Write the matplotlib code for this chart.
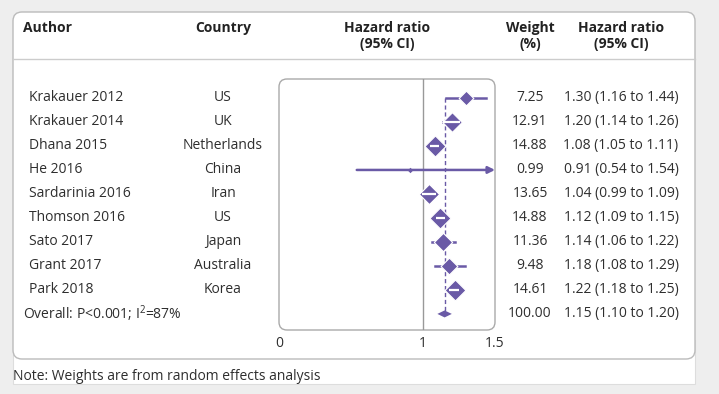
import numpy as np
import matplotlib
matplotlib.use("Agg")
import matplotlib.pyplot as plt
from matplotlib.patches import FancyBboxPatch, Rectangle, Polygon
from matplotlib.path import Path
from matplotlib.transforms import blended_transform_factory

# Study data
authors = ["Krakauer 2012", "Krakauer 2014", "Dhana 2015", "He 2016",
           "Sardarinia 2016", "Thomson 2016", "Sato 2017", "Grant 2017",
           "Park 2018"]
countries = ["US", "UK", "Netherlands", "China", "Iran", "US", "Japan",
             "Australia", "Korea"]
hr = [1.30, 1.20, 1.08, 0.91, 1.04, 1.12, 1.14, 1.18, 1.22]
hr_low = [1.16, 1.14, 1.05, 0.54, 0.99, 1.09, 1.06, 1.08, 1.18]
hr_high = [1.44, 1.26, 1.11, 1.54, 1.09, 1.15, 1.22, 1.29, 1.25]
weights = [7.25, 12.91, 14.88, 0.99, 13.65, 14.88, 11.36, 9.48, 14.61]

overall_hr = 1.15
overall_low = 1.10
overall_high = 1.20
overall_weight = 100.00
overall_label = "Overall: P<0.001; I$^2$=87%"

x_ticks = [0, 1, 1.5]
x_tick_labels = ["0", "1", "1.5"]

PURPLE = "#6a5aa6"
TEXT = "#2e2e2e"
FS = 10
W, H = 719, 394

plt.rcParams["font.family"] = ["Open Sans", "DejaVu Sans"]
plt.rcParams["mathtext.fontset"] = "custom"
plt.rcParams["mathtext.rm"] = "Open Sans"

fig = plt.figure(figsize=(W / 100, H / 100), dpi=100, facecolor="#eeeeee")

# background canvas in pixel units
bg = fig.add_axes([0, 0, 1, 1])
bg.set_xlim(0, W)
bg.set_ylim(H, 0)
bg.axis("off")

bg.add_patch(Rectangle((13, 340), 682, 44, facecolor="white",
                       edgecolor="#dddddd", lw=0.8, zorder=0))
bg.add_patch(FancyBboxPatch((13, 12), 682, 347,
                            boxstyle="round,pad=0,rounding_size=9",
                            facecolor="white", edgecolor="#bbbbbb", lw=1,
                            zorder=1))
bg.plot([13, 695], [59, 59], color="#cccccc", lw=1, zorder=2)
bg.add_patch(FancyBboxPatch((279, 79), 216, 251,
                            boxstyle="round,pad=0,rounding_size=8",
                            facecolor="white", edgecolor="#aaaaaa", lw=1,
                            zorder=2))

# headers
hdr = dict(fontsize=FS, fontweight="bold", color="#222222", va="center")
bg.text(23, 28, "Author", ha="left", **hdr)
bg.text(223, 28, "Country", ha="center", **hdr)
bg.text(387, 28, "Hazard ratio", ha="center", **hdr)
bg.text(387, 44, "(95% CI)", ha="center", **hdr)
bg.text(530, 28, "Weight", ha="center", **hdr)
bg.text(530, 44, "(%)", ha="center", **hdr)
bg.text(621, 28, "Hazard ratio", ha="center", **hdr)
bg.text(621, 44, "(95% CI)", ha="center", **hdr)

bg.text(13, 376, "Note: Weights are from random effects analysis",
        fontsize=FS, color=TEXT, ha="left", va="center")

# forest plot axes
ax = fig.add_axes([279 / W, 1 - 330 / H, 216 / W, 251 / H])
ax.patch.set_alpha(0)
for s in ax.spines.values():
    s.set_visible(False)
n = len(authors)
ax.set_xlim(0, 1.5)
ax.set_ylim(n + 0.67, -0.79)
ax.set_yticks([])
ax.set_xticks(x_ticks)
ax.set_xticklabels(x_tick_labels, fontsize=FS, color=TEXT)
ax.tick_params(axis="x", length=0, pad=4)

ax.axvline(1, color="#999999", lw=1, zorder=1)
ax.plot([overall_hr, overall_hr], [0, n], color=PURPLE, lw=1,
        ls=(0, (3, 2)), zorder=1)

diamond = Path([(0, 1), (1, 0), (0, -1), (-1, 0), (0, 1)],
               [Path.MOVETO, Path.LINETO, Path.LINETO, Path.LINETO,
                Path.CLOSEPOLY])
px_per_unit = 216 / 1.5

for i in range(n):
    width_px = 5.45 * np.sqrt(weights[i])
    if hr_high[i] > 1.5:
        ax.annotate("", xy=(1.5, i), xytext=(hr_low[i], i),
                    arrowprops=dict(arrowstyle="-|>", color=PURPLE, lw=1.8,
                                    mutation_scale=10, shrinkA=0, shrinkB=0),
                    zorder=2)
    else:
        ax.plot([hr_low[i], hr_high[i]], [i, i], color=PURPLE, lw=1.8,
                zorder=2)
    edge = 0.8 if width_px > 8 else 0
    ax.plot(hr[i], i, marker=diamond, ms=width_px * 0.72, color=PURPLE,
            mec="white", mew=edge, zorder=3)
    if (hr_high[i] - hr_low[i]) * px_per_unit < width_px:
        ax.plot([hr_low[i], hr_high[i]], [i, i], color="white", lw=1.6,
                zorder=4, solid_capstyle="butt")

dh = 3.5 / 24
ax.add_patch(Polygon([(overall_low, n), (overall_hr, n - dh),
                      (overall_high, n), (overall_hr, n + dh)],
                     closed=True, facecolor=PURPLE, edgecolor="none",
                     zorder=3))

# row text, x in figure fraction, y in row units
tr = blended_transform_factory(fig.transFigure, ax.transData)
txt = dict(fontsize=FS, color=TEXT, va="center", transform=tr, clip_on=False)
for i in range(n):
    ax.text(29 / W, i, authors[i], ha="left", **txt)
    ax.text(223 / W, i, countries[i], ha="center", **txt)
    ax.text(530 / W, i, f"{weights[i]:.2f}", ha="center", **txt)
    ax.text(621 / W, i, f"{hr[i]:.2f} ({hr_low[i]:.2f} to {hr_high[i]:.2f})",
            ha="center", **txt)
ax.text(23 / W, n, overall_label, ha="left", **txt)
ax.text(530 / W, n, f"{overall_weight:.2f}", ha="center", **txt)
ax.text(621 / W, n,
        f"{overall_hr:.2f} ({overall_low:.2f} to {overall_high:.2f})",
        ha="center", **txt)

fig.savefig("out.png", dpi=100, facecolor=fig.get_facecolor())
